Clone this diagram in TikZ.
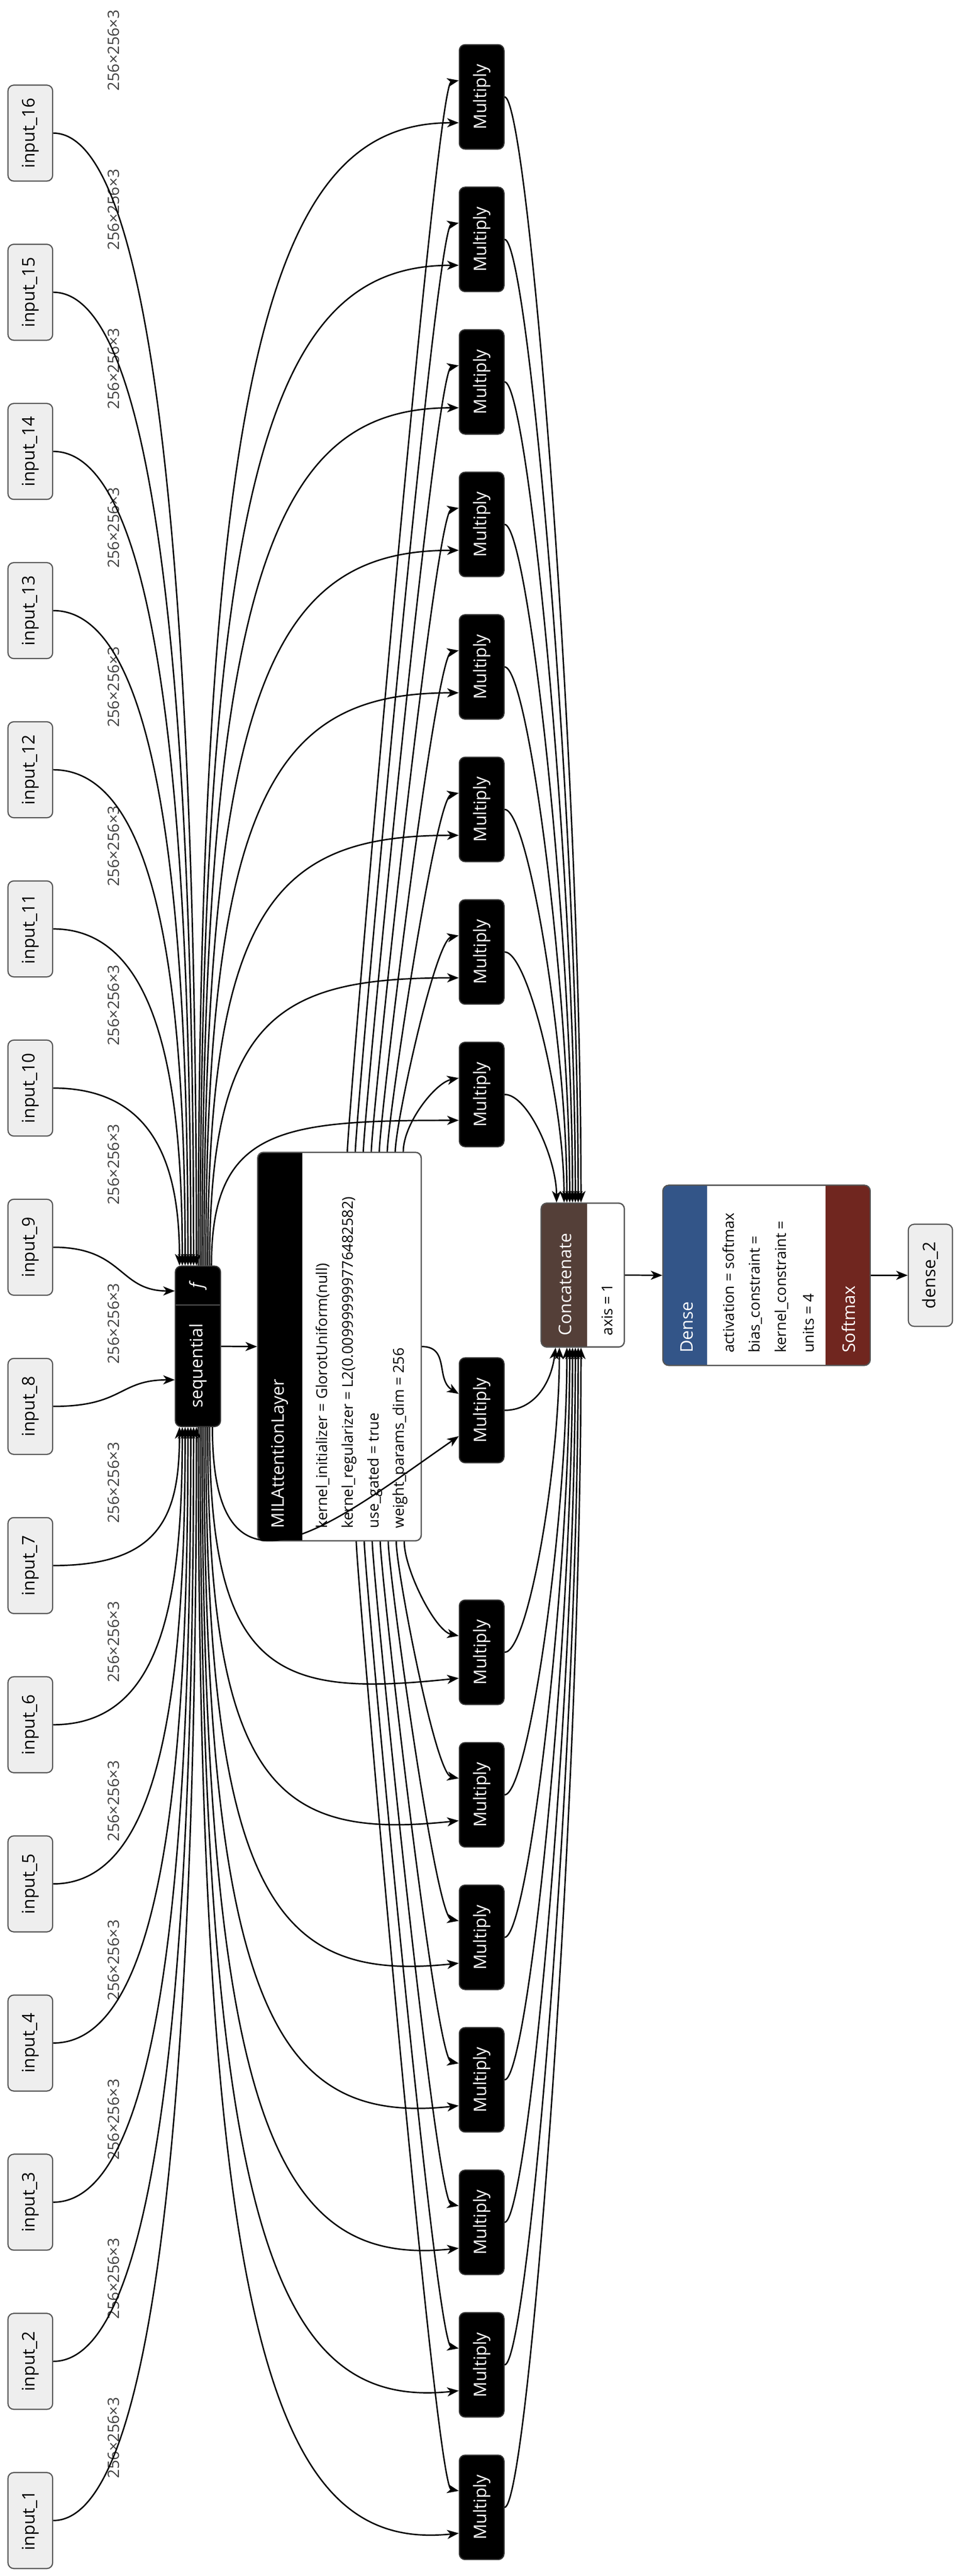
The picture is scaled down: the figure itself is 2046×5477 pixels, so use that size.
\documentclass[tikz,border=0pt]{standalone}
\usepackage{fontspec}
\setmainfont{Open Sans}
\usetikzlibrary{arrows.meta,calc,fit}
\definecolor{inbg}{HTML}{EEEEEE}
\definecolor{bord}{HTML}{555555}
\definecolor{concat}{HTML}{543F38}
\definecolor{densec}{HTML}{335588}
\definecolor{softc}{HTML}{70261F}
\begin{document}
\begin{tikzpicture}[x=0.01cm,y=0.01cm,
  box/.style={draw=bord,line width=0.7pt,rounded corners=3.5pt,inner sep=0pt},
  inbox/.style={box,fill=inbg},
  blk/.style={box,fill=black,draw=black!80},
  ed/.style={line width=0.85pt,-{Stealth[length=7pt,width=5.5pt,inset=2pt]}},
  lbl/.style={rotate=90,inner sep=0pt,font=\fontsize{10.5}{12}\selectfont},
  wlbl/.style={lbl,text=white},
  attr/.style={rotate=90,inner sep=0pt,anchor=west,font=\fontsize{9}{11}\selectfont},
  elbl/.style={rotate=90,inner sep=0pt,font=\fontsize{9.5}{11}\selectfont,text=black!75}]
\useasboundingbox (0,0) rectangle (2046,-5477);

% inputs
\foreach \i in {1,...,16}{
  \pgfmathsetmacro{\c}{5359-(\i-1)*338.4}
  \pgfmathsetmacro{\a}{\c-102}\pgfmathsetmacro{\b}{\c+102}
  \node[inbox,fit={(17,-\a)(112,-\b)}] (in\i) {};
  \node[lbl] at (in\i.center) {input\_\i};
  \pgfmathsetmacro{\l}{\c-176}
  \node[elbl] (el\i) at (242,-\l) {256×256×3};
}

% sequential
\node[blk,fit={(373,-2692)(469,-3033)}] (seq) {};
\draw[bord,line width=0.6pt] (374,-2775) -- (468,-2775);
\node[wlbl,font=\itshape\fontsize{10.5}{12}\selectfont] at (421,-2733) {f};
\node[wlbl] at (421,-2904) {sequential};

% MIL
\node[box,fill=white,fit={(548,-2450)(896,-3276)}] (mil) {};
\begin{scope}
  \clip[rounded corners=3.5pt] (548,-2450) rectangle (896,-3276);
  \fill[black] (548,-2450) rectangle (643,-3276);
\end{scope}
\draw[bord,line width=0.7pt,rounded corners=3.5pt] (548,-2450) rectangle (896,-3276);
\node[wlbl,anchor=west] at (595,-3250) {MILAttentionLayer};
\node[attr] at (686,-3250) {kernel\_initializer = GlorotUniform(null)};
\node[attr] at (743,-3250) {kernel\_regularizer = L2(0.009999999776482582)};
\node[attr] at (797,-3250) {use\_gated = true};
\node[attr] at (851,-3250) {weight\_params\_dim = 256};

% multiplies
\foreach \k in {0,...,7}{
  \pgfmathtruncatemacro{\m}{16-\k}
  \pgfmathsetmacro{\c}{206+303*\k}
  \pgfmathsetmacro{\a}{\c-111}\pgfmathsetmacro{\b}{\c+111}
  \node[blk,fit={(977,-\a)(1072,-\b)}] (m\m) {};
}
\node[blk,fit={(977,-2887)(1072,-3110)}] (m8) {};
\foreach \j in {0,...,6}{
  \pgfmathtruncatemacro{\m}{7-\j}
  \pgfmathsetmacro{\c}{3513+303*\j}
  \pgfmathsetmacro{\a}{\c-111}\pgfmathsetmacro{\b}{\c+111}
  \node[blk,fit={(977,-\a)(1072,-\b)}] (m\m) {};
}
\foreach \m in {1,...,16}{\node[wlbl] at (m\m.center) {Multiply};}

% concatenate
\node[box,fill=white,fit={(1151,-2558)(1328,-2864)}] (cat) {};
\begin{scope}
  \clip[rounded corners=3.5pt] (1151,-2558) rectangle (1328,-2864);
  \fill[concat] (1151,-2558) rectangle (1249,-2864);
\end{scope}
\draw[bord,line width=0.7pt,rounded corners=3.5pt] (1151,-2558) rectangle (1328,-2864);
\node[wlbl,anchor=west] at (1202,-2840) {Concatenate};
\node[attr] at (1292,-2840) {axis = 1};

% dense
\node[box,fill=white,fit={(1410,-2520)(1851,-2903)}] (dense) {};
\begin{scope}
  \clip[rounded corners=3.5pt] (1410,-2520) rectangle (1851,-2903);
  \fill[densec] (1410,-2520) rectangle (1504,-2903);
  \fill[softc] (1756,-2520) rectangle (1851,-2903);
\end{scope}
\draw[bord,line width=0.7pt,rounded corners=3.5pt] (1410,-2520) rectangle (1851,-2903);
\node[wlbl,anchor=west] at (1461,-2877) {Dense};
\node[attr] at (1550,-2877) {activation = softmax};
\node[attr] at (1607,-2877) {bias\_constraint =};
\node[attr] at (1663,-2877) {kernel\_constraint =};
\node[attr] at (1720,-2877) {units = 4};
\node[wlbl,anchor=west] at (1805,-2877) {Softmax};

\node[inbox,fit={(1932,-2603)(2026,-2820)}] (out) {};
\node[lbl] at (out.center) {dense\_2};

% ---- edges: inputs -> sequential
\draw[ed] (in9.east) .. controls +(150,0) and +(-120,0) .. ($(seq.north west)+(0,-54)$);
\draw[ed] (in8.east) .. controls +(150,0) and +(-120,0) .. ($(seq.north west)+(0,-243)$);
\foreach \i in {10,...,16}{
  \pgfmathsetmacro{\xo}{10+(\i-10)*6}
  \pgfmathsetmacro{\dy}{(\i-9)*338.4*0.55}
  \draw[ed] (in\i.east) .. controls +(230,0) and +(0,\dy) .. ($(seq.north west)+(\xo,0)$);
}
\foreach \i in {1,...,7}{
  \pgfmathsetmacro{\xo}{10+(7-\i)*6}
  \pgfmathsetmacro{\dy}{(8-\i)*338.4*0.55}
  \draw[ed] (in\i.east) .. controls +(230,0) and +(0,-\dy) .. ($(seq.south west)+(\xo,0)$);
}
\draw[ed] (seq.east) -- (mil.west);

% sequential -> multiplies
\foreach \k in {0,...,7}{
  \pgfmathtruncatemacro{\m}{16-\k}
  \pgfmathsetmacro{\xo}{50+\k*4}
  \pgfmathsetmacro{\dy}{(2692-206-303*\k)*0.8}
  \draw[ed] ($(seq.north west)+(\xo,0)$) .. controls +(0,\dy) and +(-380,0) .. ($(m\m.west)+(0,-55)$);
}
\foreach \j in {0,...,6}{
  \pgfmathtruncatemacro{\m}{7-\j}
  \pgfmathsetmacro{\xo}{50+(6-\j)*4}
  \pgfmathsetmacro{\dy}{(3513+303*\j-3033)*0.8+150}
  \draw[ed] ($(seq.south west)+(\xo,0)$) .. controls +(0,-\dy) and +(-380,-40) .. ($(m\m.west)+(0,-55)$);
}
\draw[ed] ($(seq.south west)+(80,0)$) .. controls +(0,-420) and +(-260,-180) .. ($(m8.west)+(0,-55)$);

% MIL -> multiplies
\foreach \k in {0,...,7}{
  \pgfmathtruncatemacro{\m}{16-\k}
  \pgfmathsetmacro{\xo}{192+\k*17}
  \draw[ed] ($(mil.north west)+(\xo,0)$) .. controls +(0,60) and +(-50,-10) .. ($(m\m.west)+(0,35)$);
}
\foreach \j in {0,...,6}{
  \pgfmathtruncatemacro{\m}{7-\j}
  \pgfmathsetmacro{\xo}{313-\j*17}
  \draw[ed] ($(mil.south west)+(\xo,0)$) .. controls +(0,-60) and +(-50,10) .. ($(m\m.west)+(0,35)$);
}
\draw[ed] (mil.east) .. controls +(60,0) and +(-50,30) .. ($(m8.west)+(0,35)$);

% multiplies -> concatenate
\foreach \k in {0,...,7}{
  \pgfmathtruncatemacro{\m}{16-\k}
  \pgfmathsetmacro{\xo}{\k==7 ? 34 : 86-\k*6}
  \pgfmathsetmacro{\dy}{(2558-206-303*\k)*0.4}
  \draw[ed] (m\m.east) .. controls +(50,0) and +(0,\dy) .. ($(cat.north west)+(\xo,0)$);
}
\foreach \j in {0,...,6}{
  \pgfmathtruncatemacro{\m}{7-\j}
  \pgfmathsetmacro{\xo}{\j==0 ? 40 : 50+\j*6}
  \pgfmathsetmacro{\dy}{(3513+303*\j-2864)*0.4}
  \draw[ed] (m\m.east) .. controls +(50,0) and +(0,-\dy) .. ($(cat.south west)+(\xo,0)$);
}
\draw[ed] (m8.east) .. controls +(60,0) and +(-10,-80) .. ($(cat.south west)+(32,0)$);

\draw[ed] (cat.east) -- (dense.west);
\draw[ed] (dense.east) -- (out.west);
\end{tikzpicture}
\end{document}
